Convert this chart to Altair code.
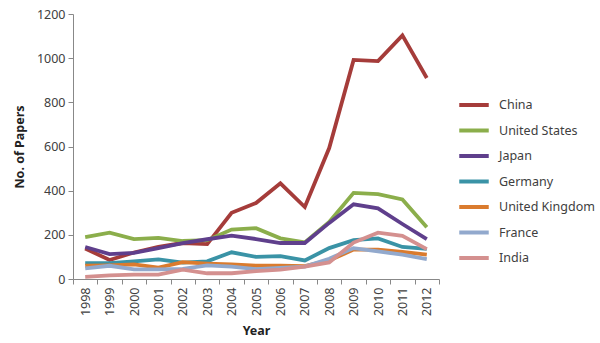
import altair as alt
import pandas as pd

years = [str(y) for y in range(1998, 2013)]
countries = ["China", "United States", "Japan", "Germany", "United Kingdom", "France", "India"]
colors = ["#A53C3A", "#8BAE4B", "#5F3F8C", "#3A93A6", "#DA7B2E", "#92A9CD", "#D4908F"]

china = [138, 86, 120, 145, 163, 158, 300, 344, 433, 326, 593, 992, 987, 1103, 910]
usa = [190, 210, 181, 186, 172, 176, 224, 230, 184, 166, 258, 390, 384, 360, 234]
japan = [145, 113, 118, 140, 162, 180, 196, 181, 163, 163, 254, 338, 320, 249, 181]
germany = [72, 72, 80, 89, 74, 80, 121, 100, 104, 84, 140, 176, 184, 145, 136]
uk = [60, 62, 66, 52, 76, 70, 66, 60, 60, 58, 84, 133, 133, 123, 110]
france = [48, 60, 44, 44, 46, 62, 56, 45, 50, 56, 92, 140, 125, 110, 90]
india = [10, 16, 20, 20, 42, 26, 26, 36, 42, 56, 75, 165, 210, 195, 135]

series = [china, usa, japan, germany, uk, france, india]
rows = []
for c, vals in zip(countries, series):
    for y, v in zip(years, vals):
        rows.append({"Year": y, "Papers": v, "Country": c})
df = pd.DataFrame(rows)

FONT = "Noto Sans"

chart = alt.Chart(df).mark_line(strokeWidth=3.8).encode(
    x=alt.X("Year:O", sort=years,
            scale=alt.Scale(type="band", paddingInner=0, paddingOuter=0),
            axis=alt.Axis(title="Year", labelAngle=-90, tickBand="extent",
                          labelFontSize=12.5, labelColor="#404040", labelPadding=3,
                          titleFontSize=12.5, titleFontWeight="bold", titleColor="#222222",
                          titlePadding=9, domainColor="#888888", tickColor="#888888",
                          tickSize=5, labelFont=FONT, titleFont=FONT)),
    y=alt.Y("Papers:Q",
            scale=alt.Scale(domain=[0, 1200], nice=False),
            axis=alt.Axis(title="No. of Papers", values=[0, 200, 400, 600, 800, 1000, 1200],
                          format="d",
                          grid=False, labelFontSize=12.5, labelColor="#404040", labelPadding=3,
                          titleFontSize=12.5, titleFontWeight="bold", titleColor="#222222",
                          titlePadding=10, domainColor="#888888", tickColor="#888888",
                          tickSize=5, labelFont=FONT, titleFont=FONT)),
    color=alt.Color("Country:N",
                    scale=alt.Scale(domain=countries, range=colors),
                    legend=alt.Legend(title=None, orient="none", legendX=384, legendY=74,
                                      symbolType="stroke", symbolSize=870,
                                      symbolStrokeWidth=4, labelFontSize=12.5,
                                      labelFont=FONT, labelColor="#404040",
                                      labelOffset=8, rowPadding=0.5, padding=0)),
    order=alt.Order("Country:N"),
).properties(
    width=366, height=265,
    autosize=alt.AutoSizeParams(type="none"),
    padding={"left": 73, "top": 14, "right": 161, "bottom": 64},
).configure_view(stroke=None)

chart.save("out.html", embed_options={"renderer": "svg", "actions": False})
